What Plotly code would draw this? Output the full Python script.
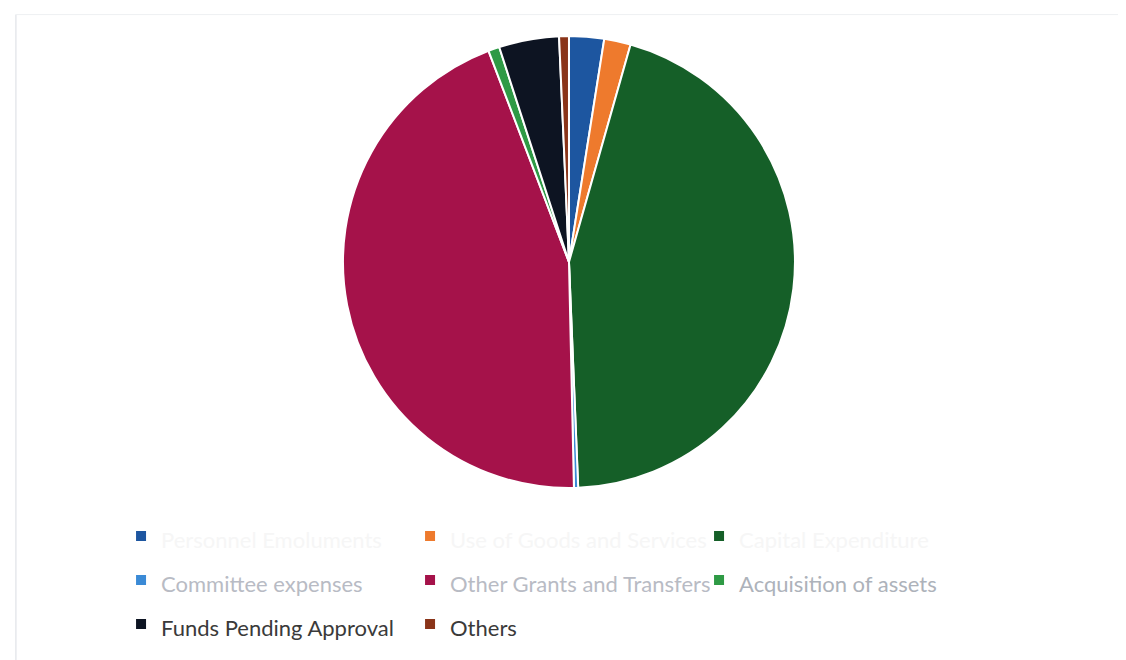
import plotly.graph_objects as go

labels = [
    "Personnel Emoluments",
    "Use of Goods and Services",
    "Capital Expenditure",
    "Committee expenses",
    "Other Grants and Transfers",
    "Acquisition of assets",
    "Funds Pending Approval",
    "Others",
]
values = [2.5, 1.9, 45.0, 0.3, 44.6, 0.8, 4.3, 0.7]
colors = ["#1d56a0", "#ee7a2d", "#155f28", "#3a8ad6", "#a5124a", "#2e9a45", "#0d1422", "#8a3419"]
legend_text_colors = ["#f6f6f6", "#f6f6f6", "#f6f6f6", "#b8bbc4", "#b8bbc4", "#adb2ba", "#3a3a3a", "#3a3a3a"]

styled_labels = [
    f"<span style='font-size:22px;color:{c}'>{l}</span>"
    for l, c in zip(labels, legend_text_colors)
]

fig = go.Figure(
    go.Pie(
        labels=styled_labels,
        values=values,
        sort=False,
        direction="clockwise",
        rotation=0,
        marker=dict(colors=colors, line=dict(color="white", width=2)),
        textinfo="none",
        hoverinfo="label+percent",
        domain=dict(x=[0.2975, 0.6989], y=[0.2727, 0.9576]),
    )
)

fig.update_layout(
    width=1126,
    height=660,
    margin=dict(l=0, r=0, t=0, b=0),
    paper_bgcolor="white",
    plot_bgcolor="white",
    font=dict(family="Lato, Open Sans, sans-serif", size=19, color="#3a3a3a"),
    showlegend=True,
    legend=dict(
        orientation="h",
        x=0.1004,
        xanchor="left",
        y=0.2409,
        yanchor="top",
        entrywidth=244,
        entrywidthmode="pixels",
        traceorder="normal",
        itemclick=False,
        bgcolor="rgba(0,0,0,0)",
        font=dict(family="Lato, Open Sans, sans-serif", size=31.5, color="#3a3a3a"),
    ),
    shapes=[
        dict(type="line", xref="paper", yref="paper", x0=0.007, x1=0.007, y0=0.0, y1=0.99,
             line=dict(color="#e6e8ec", width=1.5)),
        dict(type="line", xref="paper", yref="paper", x0=0.007, x1=0.995, y0=0.99, y1=0.99,
             line=dict(color="#eef0f2", width=1)),
    ],
)

fig.write_html("out.html")
